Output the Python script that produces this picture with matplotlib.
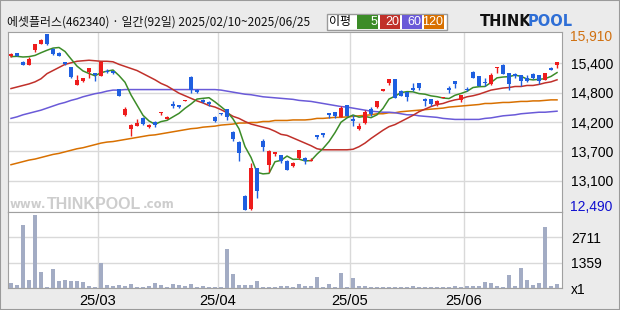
import numpy as np
import pandas as pd
import matplotlib
matplotlib.use('Agg')
import matplotlib.pyplot as plt
from matplotlib.patches import Rectangle

plt.rcParams['font.family'] = ['Noto Sans CJK KR', 'DejaVu Sans']
NUM_FONT = ['Liberation Sans Narrow', 'Liberation Sans', 'DejaVu Sans']

# trading days 2025/02/10 ~ 2025/06/25 (KRX holidays removed) -> 92 days
holidays = ['2025-03-03', '2025-05-01', '2025-05-05', '2025-05-06', '2025-06-03', '2025-06-06']
dates = pd.bdate_range('2025-02-10', '2025-06-25')
dates = dates[~dates.isin(pd.to_datetime(holidays))]

month_labels = ['25/03', '25/04', '25/05', '25/06']

open_ = [15490, 15540, 15370, 15310, 15600, 15720, 15910, 15620, 15550, 15370,
         15270, 14910, 15000, 15170, 15150, 15100, 15200, 15190, 14840, 14340,
         14060, 14130, 14280, 14110, 14200, 14380, 14260, 14550, 14530, 14610,
         15080, 14830, 14630, 14590, 14300, 14380, 14450, 14010, 13820, 12770,
         12500, 13310, 13840, 13370, 13570, 13550, 13450, 13350, 13510, 13510,
         13450, 13940, 13980, 14380, 14390, 14290, 14530, 14260, 14060, 14180,
         14450, 14490, 14810, 14950, 15040, 14810, 14780, 14860, 14960, 14650,
         14650, 14550, 14670, 14855, 15000, 14620, 14850, 15170, 15090, 14980,
         14940, 15240, 15310, 15150, 15130, 15110, 15060, 15130, 15110, 15020,
         15250, 15300]
high = [15540, 15550, 15380, 15470, 15720, 15810, 15910, 15630, 15560, 15370,
        15270, 15110, 15060, 15250, 15150, 15390, 15230, 15190, 14850, 14500,
        14155, 14260, 14290, 14170, 14210, 14400, 14310, 14610, 14540, 14630,
        15090, 14840, 14640, 14600, 14320, 14380, 14460, 14020, 13830, 12790,
        13410, 13310, 13860, 13650, 13625, 13560, 13460, 13420, 13660, 13520,
        13510, 13945, 13985, 14380, 14400, 14510, 14540, 14330, 14180, 14430,
        14490, 14610, 14840, 15040, 15040, 14820, 14790, 14950, 14960, 14670,
        14650, 14620, 14690, 14890, 15000, 14730, 14880, 15190, 15100, 15050,
        15150, 15270, 15320, 15160, 15150, 15120, 15120, 15150, 15120, 15160,
        15270, 15370]
low = [15470, 15480, 15300, 15310, 15560, 15710, 15700, 15510, 15480, 15300,
       15055, 14910, 14980, 15050, 15000, 15100, 15150, 15140, 14700, 14320,
       13930, 14120, 14140, 14085, 14100, 14340, 14250, 14470, 14480, 14610,
       14760, 14760, 14560, 14520, 14200, 14330, 14230, 13840, 13450, 12490,
       12490, 12730, 13640, 13220, 13540, 13410, 13268, 13330, 13488, 13380,
       13450, 13870, 13900, 14270, 14285, 14290, 14310, 14130, 14040, 14170,
       14320, 14480, 14810, 14910, 14670, 14710, 14610, 14810, 14830, 14520,
       14517, 14520, 14660, 14770, 14870, 14590, 14800, 15060, 14890, 14900,
       14910, 15150, 15140, 14830, 15060, 14900, 14970, 15030, 14930, 15010,
       15210, 15240]
close = [15530, 15480, 15310, 15430, 15720, 15790, 15720, 15520, 15490, 15330,
         15070, 15020, 15050, 15240, 15110, 15370, 15170, 15160, 14700, 14460,
         14140, 14180, 14170, 14150, 14140, 14400, 14300, 14510, 14490, 14630,
         14820, 14780, 14580, 14550, 14220, 14360, 14300, 13870, 13590, 12490,
         13310, 12850, 13720, 13640, 13620, 13440, 13270, 13400, 13660, 13450,
         13470, 13900, 13940, 14340, 14320, 14480, 14320, 14220, 14130, 14390,
         14360, 14600, 14840, 15040, 14670, 14710, 14690, 14820, 14870, 14610,
         14550, 14610, 14690, 14820, 14930, 14720, 14820, 15060, 14900, 14950,
         15110, 15270, 15140, 14940, 15090, 15000, 15000, 15060, 15000, 15150,
         15220, 15370]
volume = [285, 180, 3360, 445, 3900, 850, 50, 1015, 390, 430,
          390, 375, 320, 125, 50, 1335, 160, 90, 160, 125,
          215, 50, 50, 125, 270, 140, 50, 215, 160, 90,
          215, 50, 110, 50, 50, 50, 2080, 765, 160, 160,
          160, 375, 70, 50, 50, 110, 110, 50, 215, 110,
          110, 590, 50, 215, 50, 800, 50, 535, 110, 110,
          50, 50, 50, 50, 50, 50, 50, 90, 50, 50,
          50, 50, 50, 50, 90, 50, 90, 110, 110, 320,
          250, 110, 50, 695, 110, 1070, 430, 160, 285, 3260,
          110, 230]

# moving averages as drawn (5-day line continues from the close prices)
ma5_head = [15470, 15476, 15463, 15470]
ma20 = [14850, 14880, 14910, 14940, 14980, 15040, 15140, 15200, 15260, 15320,
        15350, 15380, 15390, 15400, 15390, 15380, 15380, 15370, 15320, 15280,
        15240, 15200, 15140, 15080, 15020, 14950, 14900, 14830, 14760, 14710,
        14660, 14610, 14570, 14520, 14490, 14440, 14380, 14310, 14270, 14210,
        14160, 14130, 14100, 14070, 14020, 13960, 13940, 13890, 13840, 13790,
        13740, 13680, 13660, 13660, 13660, 13660, 13660, 13670, 13720, 13790,
        13880, 13960, 14040, 14110, 14150, 14210, 14270, 14330, 14400, 14450,
        14500, 14540, 14560, 14600, 14630, 14650, 14690, 14710, 14740, 14780,
        14820, 14840, 14860, 14870, 14890, 14890, 14910, 14910, 14930, 14960,
        14980, 15020]
ma60 = [14270, 14300, 14340, 14370, 14400, 14430, 14470, 14510, 14550, 14580,
        14620, 14650, 14690, 14720, 14750, 14770, 14800, 14820, 14820, 14830,
        14830, 14830, 14830, 14830, 14830, 14830, 14830, 14830, 14830, 14830,
        14830, 14830, 14830, 14830, 14830, 14820, 14800, 14780, 14760, 14740,
        14730, 14710, 14690, 14680, 14670, 14660, 14650, 14640, 14620, 14610,
        14600, 14580, 14560, 14540, 14520, 14500, 14490, 14470, 14450, 14430,
        14410, 14400, 14390, 14390, 14380, 14360, 14340, 14340, 14320, 14310,
        14300, 14290, 14270, 14260, 14250, 14250, 14250, 14250, 14250, 14270,
        14280, 14300, 14320, 14330, 14340, 14360, 14370, 14380, 14390, 14390,
        14400, 14410]
ma120 = [13370, 13400, 13430, 13460, 13480, 13510, 13540, 13570, 13590, 13620,
         13650, 13680, 13700, 13730, 13760, 13790, 13810, 13820, 13840, 13860,
         13880, 13900, 13920, 13940, 13950, 13970, 13990, 14010, 14030, 14050,
         14070, 14080, 14100, 14110, 14120, 14140, 14150, 14160, 14180, 14180,
         14190, 14190, 14210, 14210, 14230, 14230, 14230, 14240, 14240, 14240,
         14250, 14270, 14270, 14280, 14290, 14290, 14300, 14310, 14320, 14330,
         14340, 14360, 14360, 14380, 14380, 14400, 14410, 14420, 14430, 14440,
         14450, 14460, 14470, 14490, 14500, 14510, 14520, 14530, 14540, 14560,
         14560, 14570, 14580, 14580, 14590, 14600, 14600, 14610, 14610, 14620,
         14630, 14630]

price_labels = ['15,400', '14,800', '14,200', '13,700', '13,100']
vol_ticks = [0, 1359, 2711]
vol_labels = ['x1', '1359', '2711']
vol_top = 4070

RED = '#ee1c1c'
BLUE = '#1f5fe0'
GRID = '#d9d9d9'
EDGE = '#a0a0a0'
ma_colors = {'5': '#3c8c28', '20': '#c0302a', '60': '#6a5ad8', '120': '#d87000'}

o = np.array(open_, float)
c = np.array(close, float)
h = np.array(high, float)
l = np.array(low, float)
x = np.arange(len(c))
ma5 = pd.Series(c).rolling(5).mean().values
ma5[:4] = ma5_head

W, H = 620, 310
def box(x0, y0, x1, y1):
    return [x0 / W, 1 - y1 / H, (x1 - x0) / W, (y1 - y0) / H]

fig = plt.figure(figsize=(6.2, 3.1), dpi=100, facecolor='#ebebeb')
fig.patches.append(Rectangle((0, 0), 1, 1, transform=fig.transFigure, fill=False,
                             edgecolor='#9a9a9a', lw=1.5))
ax = fig.add_axes(box(8, 32, 562, 212))
axv = fig.add_axes(box(8, 212, 562, 288), sharex=ax)

# month boundaries
month_start = [i for i in range(1, len(dates)) if dates[i].month != dates[i - 1].month]
bounds = [m - 0.5 for m in month_start]

# ---- price panel
lo, hi = min(low), max(high)
pad = (hi - lo) / 176 * 2
ax.set_ylim(lo - pad, hi + pad)
ax.set_xlim(-0.5, len(c) - 0.17)
grid_vals = np.linspace(lo, hi, 7)[1:-1][::-1]
ax.set_yticks(grid_vals)
ax.set_yticklabels(price_labels, fontsize=10, family=NUM_FONT)
ax.yaxis.tick_right()
ax.tick_params(axis='y', length=0, pad=6.5)
ax.set_xticks(bounds)
ax.tick_params(axis='x', length=0, labelbottom=False)
ax.grid(color=GRID, lw=1)
ax.set_axisbelow(True)

ax.text(1.015, hi - 3 * (hi - lo) / 176, '{:,}'.format(int(hi)), transform=ax.get_yaxis_transform(),
        color='#d07010', fontsize=10, family=NUM_FONT, va='center', ha='left')
ax.text(1.015, lo + 3.3 * (hi - lo) / 176, '{:,}'.format(int(lo)), transform=ax.get_yaxis_transform(),
        color='#1010d0', fontsize=10, family=NUM_FONT, va='center', ha='left')

ax.plot(x, ma120, color=ma_colors['120'], lw=1.1, zorder=2)
ax.plot(x, ma60, color=ma_colors['60'], lw=1.1, zorder=2)
ax.plot(x, ma20, color=ma_colors['20'], lw=1.1, zorder=2)
ax.plot(x, ma5, color=ma_colors['5'], lw=1.1, zorder=2)

up = c >= o
cols = np.where(up, RED, BLUE)
ax.vlines(x, l, h, colors=cols, lw=1, zorder=3)
body_h = np.maximum(np.abs(c - o), 18)
ax.bar(x, body_h, bottom=np.minimum(o, c), width=0.74, color=cols, lw=0, zorder=4)

for sp in ax.spines.values():
    sp.set_color(EDGE)

# watermark
WM = '#cdcdcd'
fig.text(46 / W, 1 - 208 / H, 'www.', color=WM, fontsize=8.5, fontweight='bold',
         family='DejaVu Sans', va='baseline', ha='right')
wm = fig.text(47 / W, 1 - 209 / H, 'THINKPOOL', color=WM, fontsize=11.5, fontweight='bold',
              family=NUM_FONT, va='baseline', ha='left')
fig.canvas.draw()
wm_end = wm.get_window_extent().x1
fig.text((wm_end + 1.5) / W, 1 - 208 / H, '.com', color=WM, fontsize=8.5, fontweight='bold',
         family='DejaVu Sans', va='baseline', ha='left')

# ---- volume panel
axv.bar(x, volume, width=0.78, color='#a3acc4', lw=0, zorder=3)
axv.set_ylim(0, vol_top)
axv.set_yticks(vol_ticks)
axv.set_yticklabels(vol_labels, fontsize=10, family=NUM_FONT)
axv.yaxis.tick_right()
axv.tick_params(axis='y', length=0, pad=6.5)
axv.set_xticks(bounds)
axv.set_xticklabels(month_labels, fontsize=10.5, family=NUM_FONT)
axv.tick_params(axis='x', length=0, pad=4)
axv.grid(color=GRID, lw=1)
axv.set_axisbelow(True)
for sp in axv.spines.values():
    sp.set_color(EDGE)

# ---- header
fig.text(7 / W, 1 - 22.5 / H, '에셋플러스(462340) · 일간(92일) 2025/02/10~2025/06/25',
         fontsize=8.6, va='center', ha='left', color='#111111')

fig.patches.append(Rectangle((327 / W, 1 - 30 / H), 120 / W, 16 / H, transform=fig.transFigure,
                             facecolor='white', edgecolor='#9a9a9a', lw=1))
fig.text(340 / W, 1 - 22 / H, '이평', fontsize=8.6, va='center', ha='center')
legend_boxes = [(357, 378, '5'), (380, 400, '20'), (402, 422, '60'), (424, 444, '120')]
for x0, x1, name in legend_boxes:
    fig.patches.append(Rectangle((x0 / W, 1 - 28.5 / H), (x1 - x0) / W, 13 / H,
                                 transform=fig.transFigure, facecolor=ma_colors[name], lw=0))
    fig.text((x1 - 1) / W, 1 - 22 / H, name, fontsize=9, family=NUM_FONT, color='white',
             va='center', ha='right')

fig.text(480 / W, 1 - 22 / H, 'THINK', fontsize=10.5, fontweight='heavy', family='DejaVu Sans',
         color='#111111', va='center', ha='left')
fig.text(528 / W, 1 - 22 / H, 'POOL', fontsize=10.5, fontweight='heavy', family='DejaVu Sans',
         color='#2f6fd6', va='center', ha='left')

fig.savefig('out.png', dpi=100, facecolor=fig.get_facecolor())
